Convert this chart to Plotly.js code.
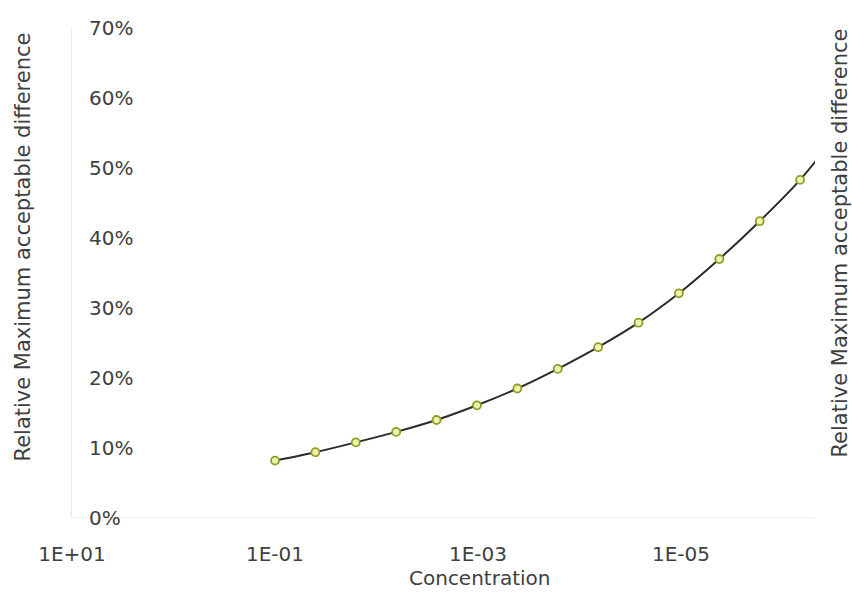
<!DOCTYPE html>
<html>
<head>
<meta charset="utf-8">
<script src="https://cdn.plot.ly/plotly-3.0.1.min.js"></script>
<style>html,body{margin:0;padding:0;background:#fff;}#chart{width:852px;height:600px;}</style>
</head>
<body>
<div id="chart"></div>
<script>
// Concentration (dilution steps)
const concentration = [0.1, 0.04, 0.016, 0.0064, 0.00256, 0.001024, 0.0004096, 0.00016384,
  0.000065536, 0.0000262144, 0.00001048576, 0.000004194304, 0.0000016777216,
  0.00000067108864, 0.000000268435456];
// Relative maximum acceptable difference, %
const relMaxDiff = [8.2, 9.4, 10.8, 12.3, 14.0, 16.1, 18.5, 21.3, 24.4, 27.9, 32.1, 37.0, 42.4, 48.3, 55.4];

const xTickVals = [10, 0.1, 0.001, 0.00001];
const xTickText = ['1E+01', '1E-01', '1E-03', '1E-05'];
const yTickVals = [0, 10, 20, 30, 40, 50, 60, 70];
const yTickText = ['0%', '10%', '20%', '30%', '40%', '50%', '60%', '70%'];

const xTitle = 'Concentration';
const yTitle = 'Relative Maximum acceptable difference';

const fontFam = 'DejaVu Sans, Verdana, sans-serif';
const txtColor = '#404040';

const trace = {
  x: concentration,
  y: relMaxDiff,
  type: 'scatter',
  mode: 'lines+markers',
  line: {color: '#2b2b2b', width: 2, shape: 'spline', smoothing: 0.6},
  marker: {size: 8, color: '#eef3b0', line: {color: '#8f9e22', width: 1.8}},
  cliponaxis: true,
  hoverinfo: 'x+y'
};

const layout = {
  width: 852, height: 600,
  margin: {l: 72, r: 37, t: 28, b: 82},
  paper_bgcolor: '#ffffff',
  plot_bgcolor: '#ffffff',
  showlegend: false,
  font: {family: fontFam, size: 20, color: txtColor},
  xaxis: {
    type: 'log',
    range: [1, -6.32],
    tickvals: xTickVals,
    ticktext: xTickText,
    ticks: '',
    showgrid: false,
    zeroline: false,
    showline: false,
    ticklabelstandoff: 22,
    tickfont: {family: fontFam, size: 20, color: txtColor}
  },
  yaxis: {
    range: [0, 70],
    tickvals: yTickVals,
    ticktext: yTickText,
    ticks: '',
    showgrid: false,
    zeroline: false,
    showline: true,
    linecolor: '#ebebeb',
    linewidth: 1.5,
    ticklabelposition: 'inside',
    ticklabeloverflow: 'allow',
    ticklabelstandoff: 18,
    tickfont: {family: fontFam, size: 20, color: txtColor}
  },
  shapes: [
    {type: 'line', xref: 'paper', yref: 'y', x0: 0, x1: 1, y0: 0, y1: 0,
     line: {color: '#ebebeb', width: 1.5}, layer: 'below'}
  ],
  annotations: [
    {text: xTitle, xref: 'paper', yref: 'paper', x: 0.549, y: 0, yshift: -60,
     xanchor: 'center', yanchor: 'middle', showarrow: false,
     font: {family: fontFam, size: 20, color: txtColor}},
    {text: yTitle, xref: 'paper', yref: 'paper', x: 0, xshift: -49, y: 0.552, textangle: -90,
     xanchor: 'center', yanchor: 'middle', showarrow: false,
     font: {family: fontFam, size: 21, color: txtColor}},
    {text: yTitle, xref: 'paper', yref: 'paper', x: 1, xshift: 25, y: 0.56, textangle: -90,
     xanchor: 'center', yanchor: 'middle', showarrow: false,
     font: {family: fontFam, size: 21, color: txtColor}}
  ]
};

Plotly.newPlot('chart', [trace], layout, {displayModeBar: false, staticPlot: true});
</script>
</body>
</html>
